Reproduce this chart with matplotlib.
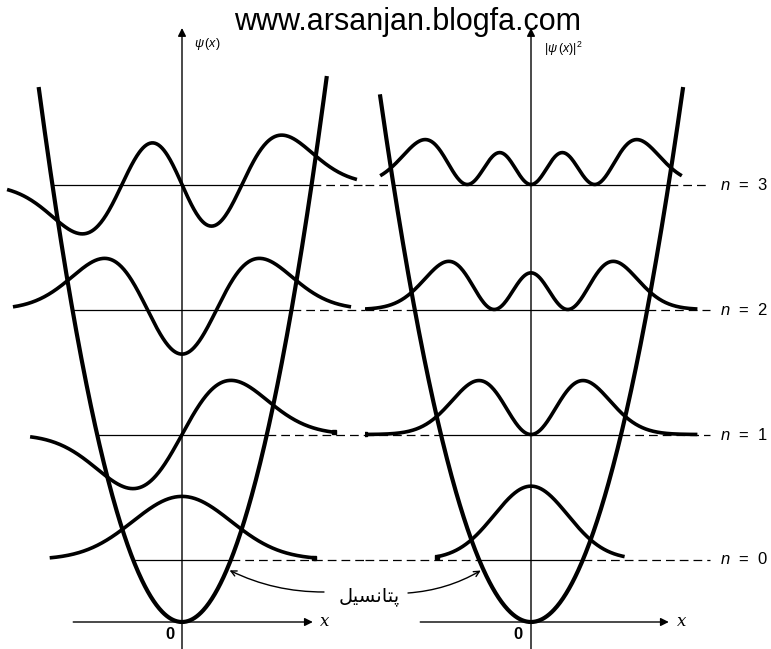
import numpy as np
import matplotlib
matplotlib.use("Agg")
import matplotlib.pyplot as plt
from numpy.polynomial.hermite import hermval
from math import factorial, pi, sqrt

plt.rcParams['mathtext.fontset'] = 'custom'
plt.rcParams['mathtext.it'] = 'Liberation Sans:italic'
plt.rcParams['mathtext.rm'] = 'Liberation Sans'

# ---- data ----
levels = [0, 1, 2, 3]
level_labels = ['$\\it{n}$  =  0', '$\\it{n}$  =  1', '$\\it{n}$  =  2', '$\\it{n}$  =  3']
psi_half_range = [2.7, 3.1, 3.45, 3.57]     # extent of psi curves (units of x)
prob_half_range = [1.8, 3.2, 3.2, 2.9]      # extent of |psi|^2 curves
psi_amp = 0.672                              # drawing scale of psi
prob_amp = 1.04                              # drawing scale of |psi|^2
left_pot_range = (-2.92, 2.95)
right_pot_range = (-2.9, 2.92)
left_xaxis = (-2.22, 2.67)
right_xaxis = (-2.13, 2.65)
potential_label = '\uFEDE\uFBFF\uFEB4\uFEE7\uFE8E\uFE98\uFB58'   # پتانسیل (shaped, visual order)

W, H = 771, 649
fig = plt.figure(figsize=(W / 100, H / 100), dpi=100)
fig.patch.set_facecolor('white')

Y0, ES = 622, 125.0
ylim = ((Y0 - H) / ES, Y0 / ES)
ax1 = fig.add_axes([0, 0, 365 / W, 1])
ax1.set_xlim((0 - 182) / 49, (365 - 182) / 49)
ax2 = fig.add_axes([365 / W, 0, (W - 365) / W, 1])
ax2.set_xlim((365 - 531) / 52, (W - 531) / 52)
for ax in (ax1, ax2):
    ax.set_ylim(*ylim)
    ax.axis('off')


def psi(n, x):
    c = np.zeros(n + 1)
    c[n] = 1
    return hermval(x, c) * np.exp(-x ** 2 / 2) / sqrt(2 ** n * factorial(n)) / pi ** 0.25


thick = dict(color='black', lw=2.6, solid_capstyle='butt')
thin = dict(color='black', lw=0.9)
dash = dict(color='black', lw=0.9, dashes=(7, 4))

right_end = (710 - 531) / 52
label_x = (720 - 531) / 52

for n, lab, hr, pr in zip(levels, level_labels, psi_half_range, prob_half_range):
    E = n + 0.5
    tp = sqrt(2 * E)
    # level lines
    ax1.plot([-tp, tp], [E, E], **thin)
    ax1.plot([tp, ax1.get_xlim()[1]], [E, E], **dash)
    ax2.plot([ax2.get_xlim()[0], -tp], [E, E], **dash)
    ax2.plot([-tp, tp], [E, E], **thin)
    ax2.plot([tp, right_end], [E, E], **dash)
    ax2.text(label_x, E, lab, ha='left', va='center', fontsize=12,
             family='Liberation Sans')
    # wavefunctions
    x = np.linspace(-hr, hr, 400)
    ax1.plot(x, E + psi_amp * psi(n, x), **thick)
    x = np.linspace(-pr, pr, 400)
    ax2.plot(x, E + prob_amp * psi(n, x) ** 2, **thick)
    if n < 2:
        ax1.plot([hr], [E + psi_amp * psi(n, np.array([hr]))[0]], 's', color='black', ms=3.5)
        ax2.plot([-pr], [E + prob_amp * psi(n, np.array([-pr]))[0] ** 2], 's', color='black', ms=3.5)

# potentials
for ax, rng in ((ax1, left_pot_range), (ax2, right_pot_range)):
    x = np.linspace(rng[0], rng[1], 400)
    ax.plot(x, x ** 2 / 2, color='black', lw=3.0)

# axes with arrows
ytop = (Y0 - 28) / ES
for ax, xr in ((ax1, left_xaxis), (ax2, right_xaxis)):
    ax.annotate('', xy=(0, ytop), xytext=(0, ylim[0]),
                arrowprops=dict(arrowstyle='-|>', color='black', lw=1.0,
                                mutation_scale=12, shrinkA=0, shrinkB=0))
    ax.annotate('', xy=(xr[1], 0), xytext=(xr[0], 0),
                arrowprops=dict(arrowstyle='-|>', color='black', lw=1.0,
                                mutation_scale=12, shrinkA=0, shrinkB=0))
    ax.text(xr[1] + 0.15, 0, 'x', ha='left', va='center', fontsize=12,
            style='italic', family='DejaVu Serif')
    ax.text(-0.16, -0.04, '0', ha='right', va='top', fontsize=12,
            family='Liberation Sans', weight='bold')

ax1.text(0.25, ytop - 0.13, r'$\psi\,(x)$', ha='left', va='center', fontsize=9)
ax2.text(0.25, ytop - 0.17, r'$|\psi\,(x)|^2$', ha='left', va='center', fontsize=9)

# potential label with arrows
fig.text(369 / W, 1 - 597 / H, potential_label, ha='center', va='center',
         fontsize=14, family='DejaVu Sans')
xa = 0.92
ax1.annotate('', xy=(xa, xa ** 2 / 2), xycoords='data',
             xytext=(324 / W, 1 - 592 / H), textcoords='figure fraction',
             arrowprops=dict(arrowstyle='->', color='black', lw=1.0,
                             connectionstyle='arc3,rad=-0.12', shrinkA=0, shrinkB=2))
xb = -0.92
ax2.annotate('', xy=(xb, xb ** 2 / 2), xycoords='data',
             xytext=(408 / W, 1 - 593 / H), textcoords='figure fraction',
             arrowprops=dict(arrowstyle='->', color='black', lw=1.0,
                             connectionstyle='arc3,rad=0.12', shrinkA=0, shrinkB=2))

fig.text(408 / W, 1 - 30 / H, 'www.arsanjan.blogfa.com', ha='center', va='baseline',
         fontsize=22, family='Liberation Sans')

fig.savefig('out.png', dpi=100, facecolor='white')
